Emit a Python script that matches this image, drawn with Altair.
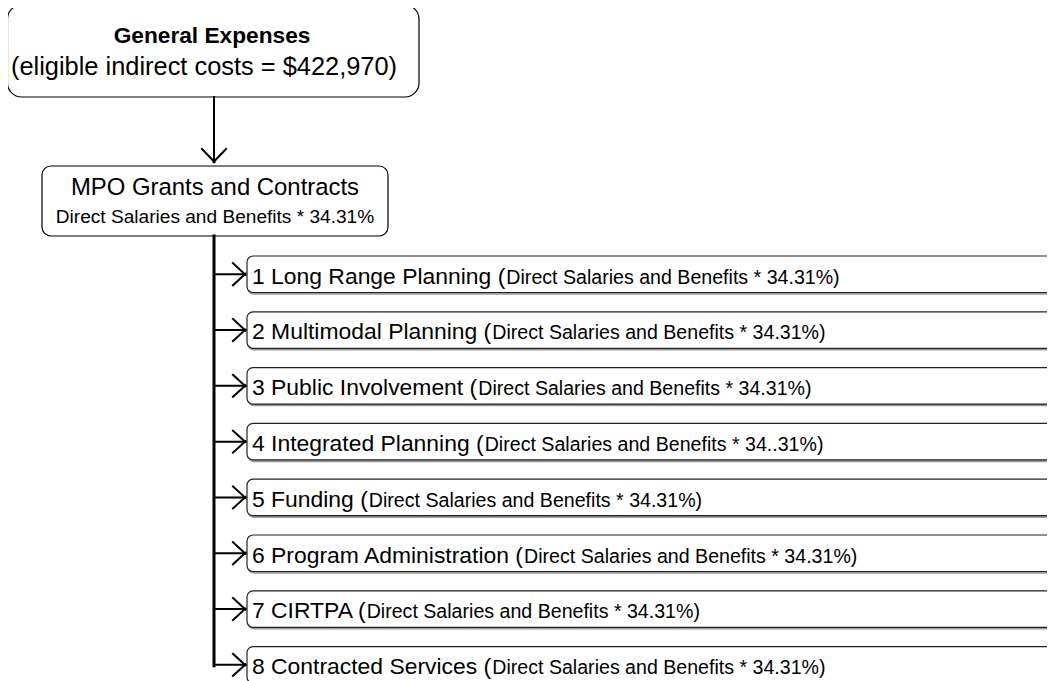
import altair as alt
import pandas as pd

# ---------------- data ----------------
top_title = "General Expenses"
top_sub = "(eligible indirect costs = $422,970)"
mid_title = "MPO Grants and Contracts"
mid_sub = "Direct Salaries and Benefits * 34.31%"
programs = [
    "1 Long Range Planning",
    "2 Multimodal Planning",
    "3 Public Involvement",
    "4 Integrated Planning",
    "5 Funding",
    "6 Program Administration",
    "7 CIRTPA",
    "8 Contracted Services",
]
rates = ["34.31%", "34.31%", "34.31%", "34..31%", "34.31%", "34.31%", "34.31%", "34.31%"]
basis = "Direct Salaries and Benefits"

# ---------------- text width estimate (Liberation Sans / Arial metrics, per 2048 em) ----------------
ARIAL = {
    " ": 569, "(": 682, ")": 682, "*": 797, "%": 1821, ".": 569, ",": 569, "$": 1139, "=": 1196,
    "a": 1139, "b": 1139, "c": 1024, "d": 1139, "e": 1139, "f": 569, "g": 1139, "h": 1139, "i": 455,
    "j": 455, "k": 1024, "l": 455, "m": 1706, "n": 1139, "o": 1139, "p": 1139, "q": 1139, "r": 682,
    "s": 1024, "t": 569, "u": 1139, "v": 1024, "w": 1479, "x": 1024, "y": 1024, "z": 1024,
    "A": 1366, "B": 1366, "C": 1479, "D": 1479, "E": 1366, "F": 1251, "G": 1593, "H": 1479,
    "I": 569, "J": 1024, "K": 1366, "L": 1139, "M": 1706, "N": 1479, "O": 1593, "P": 1366,
    "Q": 1593, "R": 1479, "S": 1366, "T": 1251, "U": 1479, "V": 1366, "W": 1933, "X": 1366,
    "Y": 1366, "Z": 1251,
}
for d in "0123456789":
    ARIAL[d] = 1139
KERN = {"PA": -152, "A ": -113, " A": -113, "RT": -37}


def text_w(s, size):
    units = sum(ARIAL.get(c, 1139) for c in s)
    units += sum(KERN.get(s[k:k + 2], 0) for k in range(len(s) - 1))
    return units / 2048.0 * size


FONT = "Liberation Sans"
W, H = 1039, 673
X = alt.Scale(domain=[8, 8 + W], nice=False, zero=False)
Y = alt.Scale(domain=[8, 8 + H], reverse=True, nice=False, zero=False)


def xq(f):
    return alt.X(f"{f}:Q", scale=X, axis=None)


def yq(f):
    return alt.Y(f"{f}:Q", scale=Y, axis=None)


# ---------------- layout ----------------
trunk_x = 214
row_top0 = 256
row_step = 55.8
row_h = 36.5
box_left = 247
big_size = 22.9
small_size = 19.6

rows = []
for i, (p, r) in enumerate(zip(programs, rates)):
    top = row_top0 + row_step * i
    big = f"{p} ("
    rows.append(
        dict(
            top=top, bot=top + row_h, c=top + row_h / 2, l=box_left, r=1100,
            big=big, small=f"{basis} * {r})",
            bx=252, sx=252 + text_w(big, big_size) + 1.0, base=top + 27.5,
        )
    )
rows_df = pd.DataFrame(rows)
shadow_df = rows_df.assign(top=rows_df.top + 1.5, bot=rows_df.bot + 1.5, l=rows_df.l + 1.0)

# line segments
segs = []
segs += [dict(x=214, y=97, x2=214, y2=162, w=2),
         dict(x=202, y=149, x2=214.5, y2=162, w=2),
         dict(x=226, y=149, x2=213.5, y2=162, w=2)]
last_c = rows[-1]["c"]
segs.append(dict(x=trunk_x, y=236, x2=trunk_x, y2=last_c + 1, w=3))
for rw in rows:
    c = rw["c"]
    segs += [dict(x=trunk_x, y=c, x2=245, y2=c, w=2),
             dict(x=233, y=c - 11, x2=245.5, y2=c + 0.5, w=2),
             dict(x=233, y=c + 11, x2=245.5, y2=c - 0.5, w=2)]
segs_df = pd.DataFrame(segs)

top_box = pd.DataFrame([dict(l=7.5, r=419, top=5, bot=97)])
mid_box = pd.DataFrame([dict(l=42, r=388, top=166, bot=236)])

labels_top = pd.DataFrame([dict(x=212, y=43, t=top_title)])
labels_top_sub = pd.DataFrame([dict(x=204, y=75, t=top_sub)])
labels_mid = pd.DataFrame([dict(x=215, y=195, t=mid_title)])
labels_mid_sub = pd.DataFrame([dict(x=215, y=223, t=mid_sub)])


def box_layer(df, radius, stroke="black", sw=1.2, fill="white"):
    return alt.Chart(df).mark_rect(cornerRadius=radius, stroke=stroke, strokeWidth=sw, fill=fill).encode(
        x=xq("l"), x2="r", y=yq("top"), y2="bot"
    )


def text_layer(df, size, align, weight="normal", xf="x", yf="y", tf="t"):
    return alt.Chart(df).mark_text(
        font=FONT, fontSize=size, align=align, baseline="alphabetic", fontWeight=weight, color="black"
    ).encode(x=xq(xf), y=yq(yf), text=f"{tf}:N")


rules = alt.Chart(segs_df).mark_rule(color="black", strokeCap="square").encode(
    x=xq("x"), x2="x2", y=yq("y"), y2="y2", strokeWidth=alt.StrokeWidth("w:Q", scale=None)
)

chart = alt.layer(
    box_layer(top_box, 14),
    box_layer(mid_box, 9),
    box_layer(shadow_df, 6, stroke="#9a9a9a", sw=1.5, fill="#9a9a9a"),
    box_layer(rows_df, 6, stroke="#222222", sw=1.2),
    rules,
    text_layer(labels_top, 22.7, "center", weight="bold"),
    text_layer(labels_top_sub, 25.4, "center"),
    text_layer(labels_mid, 23.9, "center"),
    text_layer(labels_mid_sub, 19.1, "center"),
    text_layer(rows_df, big_size, "left", xf="bx", yf="base", tf="big"),
    text_layer(rows_df, small_size, "left", xf="sx", yf="base", tf="small"),
).properties(
    width=W, height=H, padding=0, autosize=alt.AutoSizeParams(type="none"), background="white"
).configure_view(stroke=None)

chart.save("out.html", embed_options={"renderer": "svg", "actions": False})
